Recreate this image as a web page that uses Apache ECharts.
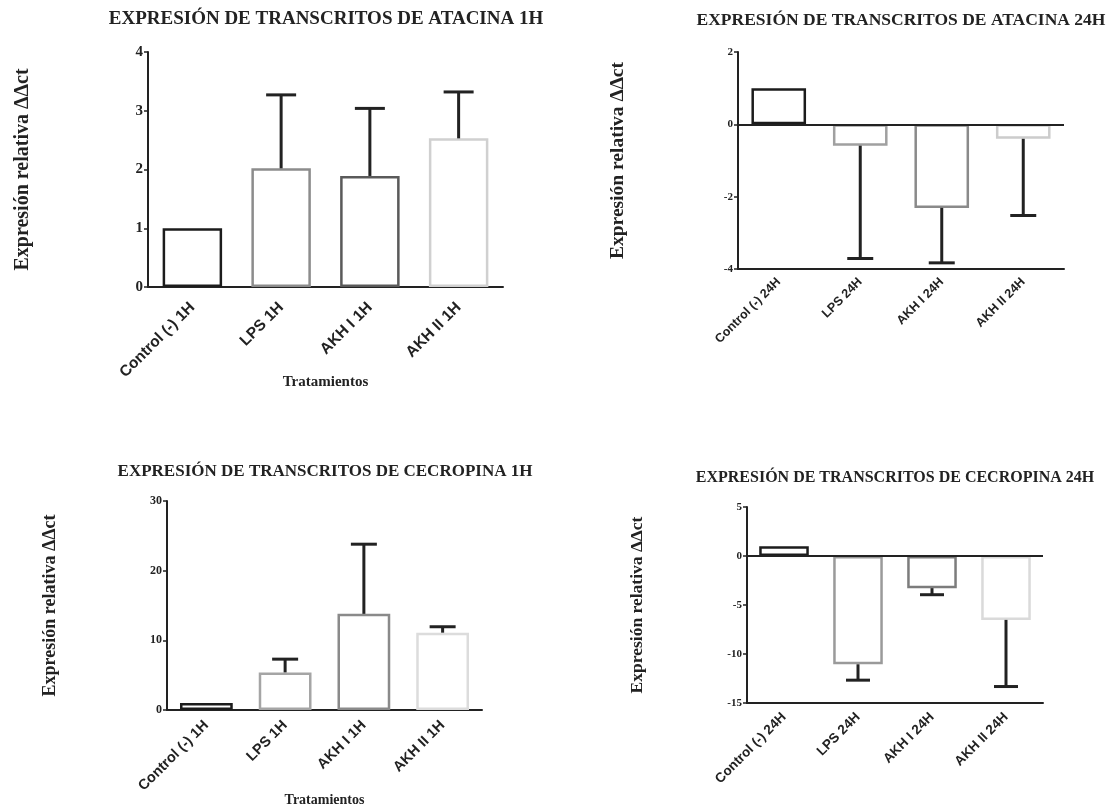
<!DOCTYPE html>
<html><head><meta charset="utf-8">
<script src="https://cdn.jsdelivr.net/npm/echarts@6/dist/echarts.min.js"></script>
<style>html,body{margin:0;padding:0;background:#fff}#c{width:1112px;height:808px}</style>
</head><body><div id="c"></div>
<script>
// ---- data ----
const categories1H = ['Control (-) 1H', 'LPS 1H', 'AKH I 1H', 'AKH II 1H'];
const categories24H = ['Control (-) 24H', 'LPS 24H', 'AKH I 24H', 'AKH II 24H'];

const atacina1hMean = [1.0, 2.02, 1.89, 2.53];
const atacina1hSD = [0, 1.25, 1.15, 0.79];
const atacina1hTicks = [0, 1, 2, 3, 4];

const atacina24hMean = [1.0, -0.59, -2.31, -0.40];
const atacina24hSD = [0, 3.12, 1.52, 2.12];
const atacina24hTicks = [-4, -2, 0, 2];

const cecropina1hMean = [1.0, 5.4, 13.8, 11.1];
const cecropina1hSD = [0, 1.9, 10.0, 0.85];
const cecropina1hTicks = [0, 10, 20, 30];

const cecropina24hMean = [1.0, -11.05, -3.28, -6.52];
const cecropina24hSD = [0, 1.62, 0.67, 6.8];
const cecropina24hTicks = [-15, -10, -5, 0, 5];

const yAxisTitle = 'Expresión relativa ΔΔct';
const xAxisTitle = 'Tratamientos';

// ---- panel layout / style ----
const SERIF = '"Liberation Serif", "Times New Roman", serif';
const SANS = '"Liberation Sans", Arial, sans-serif';
const panels = [
  {title: 'EXPRESIÓN DE TRANSCRITOS DE ATACINA 1H', tx: 326, ty: 19, tSize: 19,
   cats: categories1H, mean: atacina1hMean, sd: atacina1hSD, ticks: atacina1hTicks,
   grid: {left: 148, top: 52, width: 355, height: 235},
   colors: ['#1c1c1c', '#8c8c8c', '#5a5a5a', '#d0d0d0'],
   yNameGap: 115, yNameSize: 20, yLabelSize: 15, xLabelSize: 15.5, xMargin: 18, xName: true, xNameGap: 88, xNameSize: 15, cap: 30, zero: false},
  {title: 'EXPRESIÓN DE TRANSCRITOS DE ATACINA 24H', tx: 901, ty: 20, tSize: 17.5,
   cats: categories24H, mean: atacina24hMean, sd: atacina24hSD, ticks: atacina24hTicks,
   grid: {left: 738, top: 52, width: 326, height: 217},
   colors: ['#1c1c1c', '#a0a0a0', '#8a8a8a', '#cccccc'],
   yNameGap: 110, yNameSize: 19.5, yLabelSize: 11, xLabelSize: 12.5, xMargin: 11, xName: false, cap: 26, zero: true},
  {title: 'EXPRESIÓN DE TRANSCRITOS DE CECROPINA 1H', tx: 325, ty: 472, tSize: 17,
   cats: categories1H, mean: cecropina1hMean, sd: cecropina1hSD, ticks: cecropina1hTicks,
   grid: {left: 167, top: 501, width: 315, height: 209},
   colors: ['#1c1c1c', '#a5a5a5', '#8a8a8a', '#dcdcdc'],
   yNameGap: 108, yNameSize: 18, yLabelSize: 12, xLabelSize: 14.5, xMargin: 13, xName: true, xNameGap: 83, xNameSize: 14, cap: 26, zero: false},
  {title: 'EXPRESIÓN DE TRANSCRITOS DE CECROPINA 24H', tx: 895, ty: 478, tSize: 16,
   cats: categories24H, mean: cecropina24hMean, sd: cecropina24hSD, ticks: cecropina24hTicks,
   grid: {left: 747, top: 507, width: 296, height: 196},
   colors: ['#1c1c1c', '#9a9a9a', '#7c7c7c', '#dadada'],
   yNameGap: 101, yNameSize: 17.5, yLabelSize: 11, xLabelSize: 13.5, xMargin: 12, xName: false, cap: 24, zero: true}
];

const grids = [], xAxes = [], yAxes = [], series = [], graphics = [];
panels.forEach((p, i) => {
  grids.push(Object.assign({outerBoundsMode: 'none', containLabel: false}, p.grid));
  xAxes.push({
    type: 'category', gridIndex: i, data: p.cats,
    name: p.xName ? xAxisTitle : '', nameLocation: 'middle', nameGap: p.xNameGap || 0, nameMoveOverlap: false,
    nameTextStyle: {fontFamily: SERIF, fontWeight: 'bold', fontSize: p.xNameSize || 12, color: '#222'},
    axisLine: {onZero: false, lineStyle: {color: '#222', width: 2}},
    axisTick: {alignWithLabel: true, length: 5, lineStyle: {color: '#222', width: 2}},
    axisLabel: {rotate: 45, margin: p.xMargin, interval: 0, fontFamily: SANS, fontWeight: 'bold', fontSize: p.xLabelSize, color: '#222'},
    splitLine: {show: false}
  });
  const t = p.ticks;
  yAxes.push({
    type: 'value', gridIndex: i, min: t[0], max: t[t.length - 1], interval: t[1] - t[0],
    name: yAxisTitle, nameLocation: 'middle', nameRotate: 90, nameGap: p.yNameGap, nameMoveOverlap: false,
    nameTextStyle: {fontFamily: SERIF, fontWeight: 'bold', fontSize: p.yNameSize, color: '#222'},
    axisLine: {show: true, lineStyle: {color: '#222', width: 2}},
    axisTick: {show: true, length: 4, lineStyle: {color: '#222', width: 1.5}},
    axisLabel: {margin: 5, fontFamily: SERIF, fontWeight: 'bold', fontSize: p.yLabelSize, color: '#222'},
    splitLine: {show: false}
  });
  const bar = {
    type: 'bar', xAxisIndex: i, yAxisIndex: i, barWidth: '67%',
    data: p.mean.map((v, k) => ({value: v, itemStyle: {color: '#fff', borderColor: p.colors[k], borderWidth: 2.5}})),
    z: 2
  };
  if (p.zero) {
    bar.markLine = {silent: true, symbol: 'none', label: {show: false},
      lineStyle: {color: '#222', width: 2, type: 'solid'}, data: [{yAxis: 0}]};
  }
  series.push(bar);
  const errData = p.mean.map((v, k) => [k, v, v >= 0 ? v + p.sd[k] : v - p.sd[k]]);
  const cap = p.cap;
  series.push({
    type: 'custom', xAxisIndex: i, yAxisIndex: i, z: 3,
    encode: {x: 0, y: [1, 2]},
    data: errData,
    renderItem: function (params, api) {
      const x = api.value(0), m = api.value(1), e = api.value(2);
      if (m === e) return null;
      const p0 = api.coord([x, m]), p1 = api.coord([x, e]);
      return {type: 'group', children: [
        {type: 'line', shape: {x1: p0[0], y1: p0[1], x2: p1[0], y2: p1[1]}, style: {stroke: '#222', lineWidth: 3}},
        {type: 'line', shape: {x1: p1[0] - cap / 2, y1: p1[1], x2: p1[0] + cap / 2, y2: p1[1]}, style: {stroke: '#222', lineWidth: 3}}
      ]};
    }
  });
  graphics.push({type: 'text', x: p.tx, y: p.ty,
    style: {text: p.title, fill: '#222', align: 'center', verticalAlign: 'middle',
      font: 'bold ' + p.tSize + 'px ' + SERIF}});
});

const chart = echarts.init(document.getElementById('c'));
chart.setOption({
  animation: false,
  backgroundColor: '#fff',
  grid: grids, xAxis: xAxes, yAxis: yAxes, series: series, graphic: graphics
});
</script>
</body></html>
